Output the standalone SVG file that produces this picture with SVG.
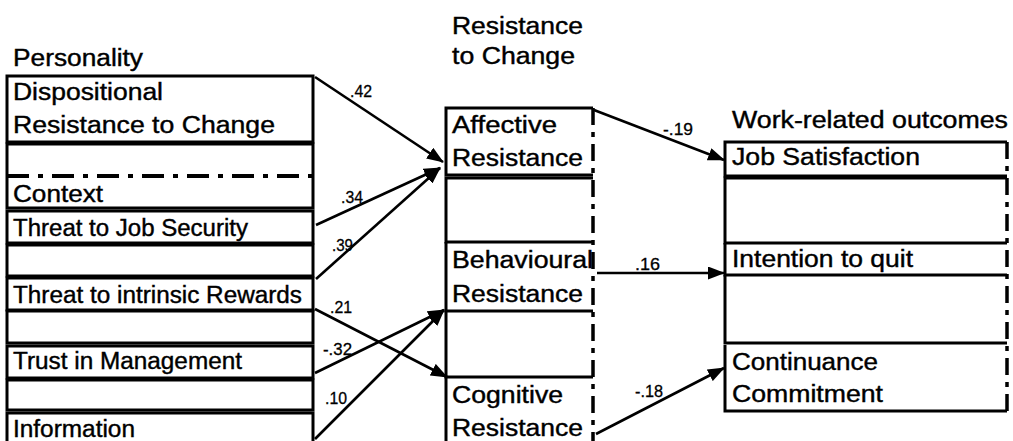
<svg xmlns="http://www.w3.org/2000/svg" width="1013" height="441" viewBox="0 0 1013 441">
<defs>
<style>
.box{fill:none;stroke:#000;stroke-width:3}
.dd{fill:none;stroke:#000;stroke-width:4;stroke-dasharray:22 9 5 9}
.ddv{fill:none;stroke:#000;stroke-width:3.5;stroke-dasharray:17 7 5 7}
.t{font-family:"Liberation Sans",Arial,sans-serif;font-size:23px;fill:#000;stroke:#000;stroke-width:0.4}
.lbl{font-family:"Liberation Sans",Arial,sans-serif;font-size:17px;fill:#000;stroke:#000;stroke-width:0.3}
.conn line{stroke:#000;stroke-width:2.6;marker-end:url(#ah)}
</style>
<marker id="ah" markerUnits="userSpaceOnUse" markerWidth="17" markerHeight="13" refX="16" refY="6.5" orient="auto">
<path d="M0,0 L17,6.5 L0,13 z" fill="#000"/>
</marker>
</defs>
<rect width="1013" height="441" fill="#fff"/>

<!-- Left column -->
<g id="hdr-personality"><text class="t" x="13" y="66" textLength="130" lengthAdjust="spacingAndGlyphs">Personality</text></g>
<g id="n-dispositional">
<rect class="box" x="7" y="76" width="306" height="66"/>
<text class="t" x="13" y="100" textLength="150" lengthAdjust="spacingAndGlyphs">Dispositional</text>
<text class="t" x="13" y="133" textLength="262" lengthAdjust="spacingAndGlyphs">Resistance to Change</text>
</g>
<g id="spacer-l1"><path class="box" d="M7,176 V144 H313 V176"/></g>
<g id="divider-context"><line class="dd" x1="7" y1="176" x2="313" y2="176"/></g>
<g id="n-context">
<path class="box" d="M7,176 V208 H313 V176"/>
<text class="t" x="13" y="202" textLength="90" lengthAdjust="spacingAndGlyphs">Context</text>
</g>
<g id="n-threat-job">
<rect class="box" x="7" y="211" width="306" height="32"/>
<text class="t" x="13" y="236" textLength="235" lengthAdjust="spacingAndGlyphs">Threat to Job Security</text>
</g>
<g id="spacer-l2"><rect class="box" x="7" y="245" width="306" height="31"/></g>
<g id="n-threat-rewards">
<rect class="box" x="7" y="278" width="306" height="32"/>
<text class="t" x="13" y="303" textLength="289" lengthAdjust="spacingAndGlyphs">Threat to intrinsic Rewards</text>
</g>
<g id="spacer-l3"><rect class="box" x="7" y="311" width="306" height="32"/></g>
<g id="n-trust">
<rect class="box" x="7" y="346" width="306" height="32"/>
<text class="t" x="13" y="369" textLength="229" lengthAdjust="spacingAndGlyphs">Trust in Management</text>
</g>
<g id="spacer-l4"><rect class="box" x="7" y="380" width="306" height="30"/></g>
<g id="n-information">
<rect class="box" x="7" y="413" width="306" height="40"/>
<text class="t" x="13" y="437" textLength="122" lengthAdjust="spacingAndGlyphs">Information</text>
</g>

<!-- Middle column -->
<g id="hdr-resistance">
<text class="t" x="452" y="34" textLength="131" lengthAdjust="spacingAndGlyphs">Resistance</text>
<text class="t" x="452" y="64" textLength="123" lengthAdjust="spacingAndGlyphs">to Change</text>
</g>
<g id="n-affective">
<path class="box" d="M593,108 H446 V175 H593"/>
<text class="t" x="452" y="133" textLength="105" lengthAdjust="spacingAndGlyphs">Affective</text>
<text class="t" x="452" y="166" textLength="131" lengthAdjust="spacingAndGlyphs">Resistance</text>
</g>
<g id="spacer-m1"><path class="box" d="M593,178 H446 V242 H593"/></g>
<g id="n-behavioural">
<path class="box" d="M446,242 V311 H593"/>
<text class="t" x="452" y="268" textLength="141" lengthAdjust="spacingAndGlyphs">Behavioural</text>
<text class="t" x="452" y="302" textLength="131" lengthAdjust="spacingAndGlyphs">Resistance</text>
</g>
<g id="spacer-m2"><path class="box" d="M446,311 V377 H593"/></g>
<g id="n-cognitive">
<path class="box" d="M446,377 V445"/>
<text class="t" x="452" y="403" textLength="111" lengthAdjust="spacingAndGlyphs">Cognitive</text>
<text class="t" x="452" y="436" textLength="131" lengthAdjust="spacingAndGlyphs">Resistance</text>
</g>
<g id="edge-m"><line class="ddv" x1="593" y1="108" x2="593" y2="441"/></g>

<!-- Right column -->
<g id="hdr-outcomes"><text class="t" x="732" y="128" textLength="276" lengthAdjust="spacingAndGlyphs">Work-related outcomes</text></g>
<g id="n-job-satisfaction">
<path class="box" d="M1007,142 H725 V176 H1007"/>
<text class="t" x="732" y="165" textLength="188" lengthAdjust="spacingAndGlyphs">Job Satisfaction</text>
</g>
<g id="spacer-r1"><path class="box" d="M1007,178 H725 V243 H1007"/></g>
<g id="n-intention">
<path class="box" d="M725,243 V275 H1007"/>
<text class="t" x="732" y="267" textLength="181" lengthAdjust="spacingAndGlyphs">Intention to quit</text>
</g>
<g id="spacer-r2"><path class="box" d="M725,275 V343 H1007"/></g>
<g id="n-continuance">
<path class="box" d="M725,345 V411 H1007"/>
<text class="t" x="732" y="370" textLength="146" lengthAdjust="spacingAndGlyphs">Continuance</text>
<text class="t" x="732" y="402" textLength="151" lengthAdjust="spacingAndGlyphs">Commitment</text>
</g>
<g id="edge-r"><line class="ddv" x1="1007" y1="142" x2="1007" y2="411"/></g>

<!-- Connectors -->
<g id="connectors" class="conn">
<line x1="315" y1="77" x2="443" y2="162"/>
<line x1="316" y1="225" x2="440" y2="168"/>
<line x1="316" y1="279" x2="440" y2="168"/>
<line x1="315" y1="309" x2="447" y2="377"/>
<line x1="315" y1="373" x2="444" y2="310"/>
<line x1="315" y1="439" x2="444" y2="310"/>
<line x1="594" y1="110" x2="724" y2="160"/>
<line x1="597" y1="273" x2="724" y2="273"/>
<line x1="596" y1="434" x2="724" y2="368"/>
<text class="lbl" x="350" y="97" textLength="22" lengthAdjust="spacingAndGlyphs">.42</text>
<text class="lbl" x="341" y="203" textLength="22" lengthAdjust="spacingAndGlyphs">.34</text>
<text class="lbl" x="332" y="251" textLength="21" lengthAdjust="spacingAndGlyphs">.39</text>
<text class="lbl" x="330" y="313" textLength="22" lengthAdjust="spacingAndGlyphs">.21</text>
<text class="lbl" x="323" y="355" textLength="29" lengthAdjust="spacingAndGlyphs">-.32</text>
<text class="lbl" x="325" y="404" textLength="22" lengthAdjust="spacingAndGlyphs">.10</text>
<text class="lbl" x="663" y="135" textLength="30" lengthAdjust="spacingAndGlyphs">-.19</text>
<text class="lbl" x="635" y="270" textLength="25" lengthAdjust="spacingAndGlyphs">.16</text>
<text class="lbl" x="635" y="397" textLength="28" lengthAdjust="spacingAndGlyphs">-.18</text>
</g>
</svg>
